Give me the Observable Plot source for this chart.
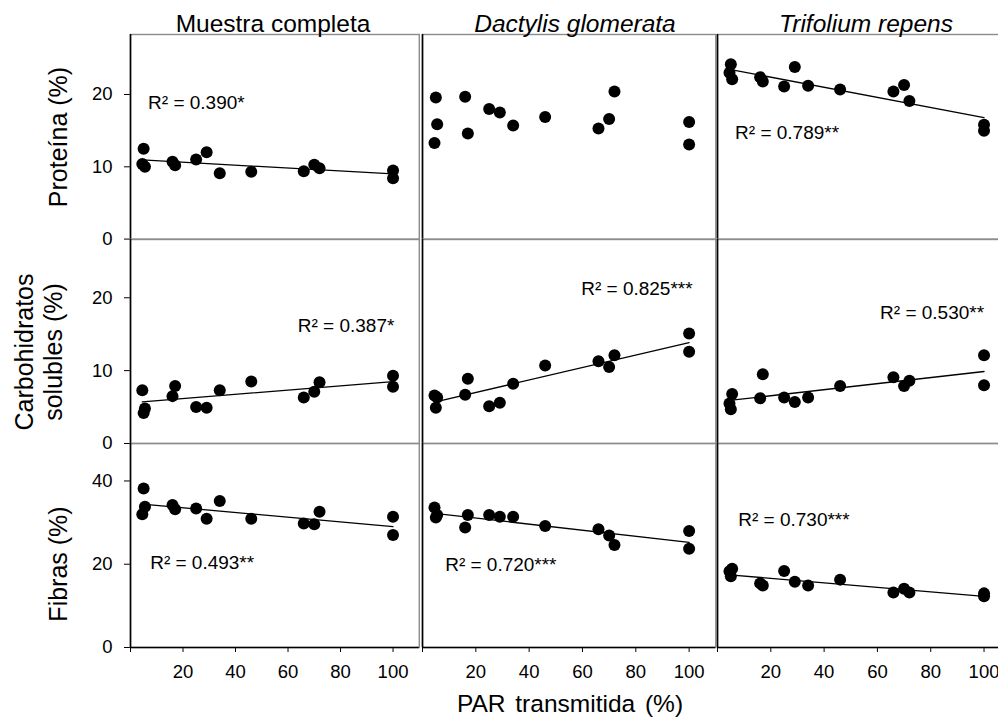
<!DOCTYPE html>
<html>
<head>
<meta charset="utf-8">
<script src="https://cdn.jsdelivr.net/npm/d3@7"></script>
<script src="https://cdn.jsdelivr.net/npm/@observablehq/plot@0.6"></script>
<style>
  html, body { margin: 0; padding: 0; background: #fff; overflow: hidden; }
  #figure { position: relative; width: 998px; height: 719px; overflow: hidden; font-family: "Liberation Sans", Arial, sans-serif; }
  #figure > svg, #figure > .panel { position: absolute; }
  .panel svg { overflow: visible; max-width: none !important; display: block; }
</style>
</head>
<body>
<div id="figure"></div>
<script>
// Transmitted PAR (%) of each sampling point (shared by every panel)
const par = [4.5, 5, 5.5, 16, 17, 25, 29, 34, 46, 66, 70, 72, 100, 100];

// Crude protein (%)
const proteinaMuestra   = [10.4, 12.5, 10.0, 10.7, 10.2, 11.0, 12.0, 9.1, 9.3, 9.4, 10.3, 9.8, 9.5, 8.4];
const proteinaDactylis  = [13.3, 19.6, 15.9, 19.7, 14.6, 18.0, 17.5, 15.7, 16.9, 15.3, 16.6, 20.4, 16.2, 13.1];
const proteinaTrifolium = [23.0, 24.2, 22.1, 22.4, 21.8, 21.1, 23.8, 21.2, 20.7, 20.4, 21.3, 19.1, 15.8, 15.0];

// Water-soluble carbohydrates (%)
const carboMuestra   = [7.3, 4.2, 4.8, 6.5, 7.9, 5.0, 4.9, 7.3, 8.5, 6.3, 7.1, 8.4, 9.3, 7.8];
const carboDactylis  = [6.6, 4.9, 6.3, 6.7, 8.9, 5.1, 5.6, 8.2, 10.7, 11.3, 10.5, 12.1, 15.1, 12.6];
const carboTrifolium = [5.5, 4.7, 6.8, 6.2, 9.5, 6.3, 5.7, 6.3, 7.9, 9.1, 7.9, 8.6, 12.1, 8.0];

// Fibre (%)
const fibraMuestra   = [32.0, 38.2, 33.8, 34.2, 33.2, 33.4, 30.9, 35.2, 30.9, 29.8, 29.6, 32.6, 31.4, 27.0];
const fibraDactylis  = [33.6, 31.2, 31.8, 28.8, 31.8, 31.8, 31.4, 31.4, 29.2, 28.4, 26.9, 24.6, 28.0, 23.7];
const fibraTrifolium = [18.3, 17.1, 18.9, 15.4, 14.9, 18.4, 15.8, 14.9, 16.3, 13.2, 14.1, 13.2, 13.0, 12.3];

// Panel titles and variable names
const columnTitles = ["Muestra completa", "Dactylis glomerata", "Trifolium repens"];
const columnItalic = [false, true, true];
const rowTitles = [["Proteína (%)"], ["Carbohidratos", "solubles (%)"], ["Fibras (%)"]];
const xTitle = "PAR transmitida (%)";

// Regression statistics (null = no significant fit)
const r2Labels = [
  ["R² = 0.390*",  null,            "R² = 0.789**"],
  ["R² = 0.387*",  "R² = 0.825***", "R² = 0.530**"],
  ["R² = 0.493**", "R² = 0.720***", "R² = 0.730***"]
];

// Tick values
const xTicks = [0, 20, 40, 60, 80, 100];
const yTicksByRow = [[0, 10, 20], [0, 10, 20], [0, 20, 40]];

const values = [
  [proteinaMuestra, proteinaDactylis, proteinaTrifolium],
  [carboMuestra, carboDactylis, carboTrifolium],
  [fibraMuestra, fibraDactylis, fibraTrifolium]
];

// ---- layout ----
const font = "'Liberation Sans', Arial, sans-serif";
const cols = [
  {left: 130.2, width: 288.8},
  {left: 421.7, width: 293.3},
  {left: 717.4, width: 293.2}
];
const rowsGeom = [
  {top: 34.0,  height: 204.6, max: 28.3},
  {top: 238.6, height: 204.0, max: 28.0},
  {top: 442.5, height: 204.0, max: 49.0}
];
// where each R² label sits, in data units of its panel
const labelPos = [
  [{x: 6.7, y: 18.8, anchor: "start"}, null, {x: 6.6, y: 14.7, anchor: "start"}],
  [{x: 100.5, y: 16.2, anchor: "end"}, {x: 101.3, y: 21.2, anchor: "end"}, {x: 100, y: 17.9, anchor: "end"}],
  [{x: 7.5, y: 20.2, anchor: "start"}, {x: 8.5, y: 19.9, anchor: "start"}, {x: 7.8, y: 30.6, anchor: "start"}]
];

const fig = document.getElementById("figure");

for (let r = 0; r < 3; r++) {
  for (let c = 0; c < 3; c++) {
    const data = par.map((x, i) => ({par: x, v: values[r][c][i]}));
    const g = rowsGeom[r], col = cols[c];
    const mL = c === 0 ? 135 : 3, mR = 3, mT = 3, mB = r === 2 ? 75 : 3;
    const W = mL + col.width + mR, H = mT + g.height + mB;
    const label = r2Labels[r][c];
    const pos = labelPos[r][c];
    const marks = [
      Plot.frame({stroke: "#8c8c8c", strokeWidth: 1.4}),
      Plot.ruleX([0], {stroke: "black", strokeWidth: 1.6})
    ];
    if (r === 2) marks.push(Plot.ruleY([0], {stroke: "black", strokeWidth: 1.6}));
    if (label) marks.push(Plot.linearRegressionY(data, {x: "par", y: "v", ci: 0, stroke: "black", strokeWidth: 1.3}));
    marks.push(Plot.dot(data, {x: "par", y: "v", r: 6, fill: "black", stroke: "none"}));
    if (label) marks.push(Plot.text([label], {
      x: () => pos.x, y: () => pos.y, text: d => d,
      textAnchor: pos.anchor, fontSize: 19, fill: "black"
    }));

    const chart = Plot.plot({
      width: W,
      height: H,
      marginLeft: mL, marginRight: mR, marginTop: mT, marginBottom: mB,
      style: {fontFamily: font, fontSize: "18.5px", color: "black", background: "transparent", overflow: "visible"},
      x: {
        domain: [0, 110],
        ticks: xTicks,
        tickSize: 5,
        tickPadding: 12,
        tickFormat: d => d === 0 ? "" : String(d),
        axis: r === 2 ? "bottom" : null,
        label: null
      },
      y: {
        domain: [0, g.max],
        ticks: yTicksByRow[r],
        tickSize: 6,
        tickPadding: 12,
        axis: c === 0 ? "left" : null,
        label: null
      },
      marks
    });
    const wrap = document.createElement("div");
    wrap.className = "panel";
    wrap.style.left = (col.left - mL) + "px";
    wrap.style.top = (g.top - mT) + "px";
    wrap.style.width = W + "px";
    wrap.style.height = H + "px";
    wrap.appendChild(chart);
    fig.appendChild(wrap);
  }
}

// ---- titles ----
const overlay = d3.select(fig).append("svg")
  .attr("width", 998).attr("height", 719)
  .style("left", "0px").style("top", "0px")
  .style("pointer-events", "none")
  .style("font-family", font);

const titleX = [273, 575, 866];
overlay.selectAll("text.col")
  .data(columnTitles)
  .join("text")
  .attr("class", "col")
  .attr("x", (d, i) => titleX[i])
  .attr("y", 32)
  .attr("text-anchor", "middle")
  .attr("font-size", 24.5)
  .attr("font-style", (d, i) => columnItalic[i] ? "italic" : "normal")
  .text(d => d);

const rowCenterY = [137, 352, 564];
const rowCenterX = [58, 38.5, 58];
rowTitles.forEach((lines, i) => {
  const t = overlay.append("text")
    .attr("transform", `translate(${rowCenterX[i]},${rowCenterY[i]}) rotate(-90)`)
    .attr("text-anchor", "middle")
    .attr("font-size", 25);
  lines.forEach((line, j) => {
    t.append("tspan")
      .attr("x", 0)
      .attr("y", (j - (lines.length - 1) / 2) * 29 + 9)
      .text(line);
  });
});

overlay.append("text")
  .attr("x", 570)
  .attr("y", 712)
  .attr("text-anchor", "middle")
  .attr("font-size", 24.5)
  .attr("word-spacing", 3)
  .text(xTitle);
</script>
</body>
</html>
